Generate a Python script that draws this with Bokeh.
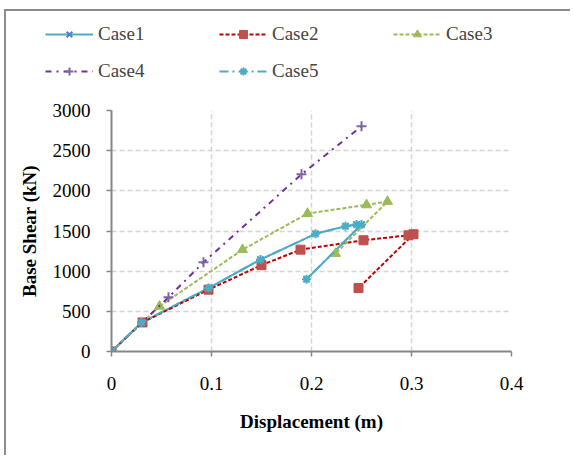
from bokeh.plotting import figure
from bokeh.models import Legend, LegendItem, FixedTicker, Range1d
from bokeh.embed import file_html
from bokeh.resources import INLINE

# Data
disp1 = [0, 0.030, 0.097, 0.149, 0.204, 0.234, 0.245, 0.250, 0.195]
shear1 = [0, 360, 790, 1145, 1465, 1560, 1580, 1580, 900]

disp2 = [0, 0.031, 0.097, 0.150, 0.189, 0.252, 0.297, 0.302, 0.247]
shear2 = [0, 362, 770, 1075, 1268, 1385, 1446, 1460, 790]

disp3 = [0, 0.048, 0.131, 0.196, 0.255, 0.276, 0.224]
shear3 = [0, 562, 1267, 1717, 1825, 1867, 1220]

disp4 = [0, 0.057, 0.092, 0.190, 0.250]
shear4 = [0, 675, 1110, 2205, 2805]

disp5 = [0, 0.030, 0.097, 0.149, 0.204, 0.234, 0.245, 0.250, 0.195]
shear5 = [0, 360, 790, 1145, 1465, 1560, 1580, 1580, 900]

labels = ["Case1", "Case2", "Case3", "Case4", "Case5"]
x_ticks = [0, 0.1, 0.2, 0.3, 0.4]
y_ticks = [0, 500, 1000, 1500, 2000, 2500, 3000]

FONT = "Liberation Serif"

# series styles
styles = [
    dict(line=dict(line_color="#4BACC6", line_width=2),
         marker=dict(marker="x", size=8, line_color="#4F81BD", line_width=2)),
    dict(line=dict(line_color="#C00000", line_width=2, line_dash="4 2"),
         marker=dict(marker="square", size=9, fill_color="#C0504D", line_color="#C0504D")),
    dict(line=dict(line_color="#9BBB59", line_width=2, line_dash="4 2"),
         marker=dict(marker="triangle", size=10, fill_color="#9BBB59", line_color="#9BBB59")),
    dict(line=dict(line_color="#7030A0", line_width=2, line_dash="6 5 2 5"),
         marker=dict(marker="cross", size=10, line_color="#8064A2", line_width=2)),
    dict(line=dict(line_color="#4BACC6", line_width=2, line_dash="9 4 2 4"),
         marker=dict(marker="asterisk", size=9, line_color="#4BACC6", line_width=2)),
]
series = [(disp1, shear1), (disp2, shear2), (disp3, shear3), (disp4, shear4), (disp5, shear5)]

BORDER = "2px solid #8c8c8c"

# ---- main chart ----
p = figure(width=566, height=366, output_backend="svg", toolbar_location=None,
           x_range=Range1d(0, 0.4), y_range=Range1d(0, 3000),
           min_border_left=105, min_border_right=61, min_border_top=21, min_border_bottom=104)
p.styles = {"margin-left": "4px", "border-left": BORDER}
p.outline_line_color = None
p.background_fill_color = "white"

for ax in (p.xaxis[0], p.yaxis[0]):
    ax.axis_line_color = "#868686"
    ax.axis_line_width = 2
    ax.major_tick_line_color = "#868686"
    ax.major_tick_line_width = 1.5
    ax.major_tick_out = 5
    ax.major_tick_in = 0
    ax.minor_tick_line_color = None
    ax.major_label_text_font = FONT
    ax.major_label_text_font_size = "19px"
    ax.major_label_text_color = "black"
    ax.axis_label_text_font = FONT
    ax.axis_label_text_font_size = "19px"
    ax.axis_label_text_font_style = "bold"
    ax.axis_label_text_color = "black"

p.xaxis.ticker = FixedTicker(ticks=x_ticks)
p.yaxis.ticker = FixedTicker(ticks=y_ticks)
p.xaxis.major_label_overrides = {0: "0", 0.1: "0.1", 0.2: "0.2", 0.3: "0.3", 0.4: "0.4"}
p.xaxis.axis_label = "Displacement (m)"
p.yaxis.axis_label = "Base Shear (kN)"
p.xaxis.major_label_standoff = 20
p.yaxis.major_label_standoff = 16
p.xaxis.axis_label_standoff = 18
p.yaxis.axis_label_standoff = 10

for g in (p.xgrid[0], p.ygrid[0]):
    g.grid_line_color = "#d4d4d4"
    g.grid_line_width = 1.5
    g.grid_line_dash = "5 3"
p.xgrid.ticker = FixedTicker(ticks=x_ticks)
p.ygrid.ticker = FixedTicker(ticks=y_ticks)

for (xs, ys), st in zip(series, styles):
    p.line(xs, ys, **st["line"])
    p.scatter(xs, ys, **st["marker"])

# ---- legend strip above the chart (series kept outside its visible range) ----
lg = figure(width=566, height=80, output_backend="svg", toolbar_location=None,
            x_axis_type=None, y_axis_type=None,
            x_range=Range1d(0, 0.4), y_range=Range1d(-200, -100),
            min_border_left=27, min_border_right=0, min_border_top=0, min_border_bottom=0)
lg.styles = {"margin-top": "9px", "margin-left": "4px", "border-top": BORDER, "border-left": BORDER}
lg.outline_line_color = None
lg.xgrid.visible = False
lg.ygrid.visible = False

items = []
for lab, (xs, ys), st in zip(labels, series, styles):
    rl = lg.line(xs, ys, **st["line"])
    rm = lg.scatter(xs, ys, **st["marker"])
    items.append(LegendItem(label=lab, renderers=[rl, rm]))

legend = Legend(items=items, location="top_left", orientation="horizontal", ncols=3,
                padding=0, margin=12, spacing=15, glyph_width=48, glyph_height=20,
                label_height=20, label_width=106, label_standoff=5,
                label_text_font=FONT, label_text_font_size="19px",
                border_line_color=None, background_fill_alpha=0)
lg.add_layout(legend, "center")

open("out.html", "w").write(file_html([lg, p], INLINE))
